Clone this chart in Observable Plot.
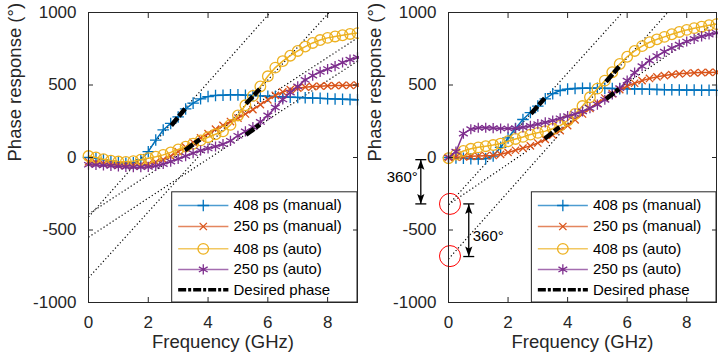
<!DOCTYPE html>
<html><head><meta charset="utf-8">
<script src="https://cdn.jsdelivr.net/npm/d3@7"></script>
<script src="https://cdn.jsdelivr.net/npm/@observablehq/plot@0.6"></script>
<style>
html,body{margin:0;padding:0;background:#fff;}
#wrap{display:flex;width:718px;height:356px;overflow:hidden;}
#wrap svg{overflow:visible;}
</style></head><body><div id="wrap"></div>
<script>
// ---------- data ----------
const freq = [0,0.25,0.5,0.75,1,1.25,1.5,1.75,2,2.25,2.5,2.75,3,3.25,3.5,3.75,4,4.25,4.5,4.75,5,5.25,5.5,5.75,6,6.25,6.5,6.75,7,7.25,7.5,7.75,8,8.25,8.5,8.75,9];
const seriesNames = ["408 ps (manual)","250 ps (manual)","408 ps (auto)","250 ps (auto)"];
const desiredName = "Desired phase";
const xTicks = [0,2,4,6,8];
const yTicks = [-1000,-500,0,500,1000];
const xLabel = "Frequency (GHz)";
const yLabel = "Phase response (°)";

// left panel
const leftMan408  = [0,-6,-15,-25,-35,-40,-37,-15,40,120,190,235,280,335,375,405,420,428,430,432,432,430,428,425,422,420,418,416,414,412,410,408,406,404,402,400,398];
const leftMan250  = [-30,-35,-42,-48,-52,-55,-55,-52,-45,-32,-15,10,40,72,105,135,165,195,222,248,272,300,330,365,398,428,452,468,478,485,489,492,494,496,497,498,500];
const leftAuto408 = [10,0,-12,-22,-28,-30,-25,-15,-5,5,18,35,55,75,95,118,140,160,180,225,290,360,425,490,560,620,665,702,735,765,790,810,825,835,843,852,858];
const leftAuto250 = [-50,-52,-55,-58,-62,-65,-67,-67,-65,-58,-45,-28,-10,10,30,48,62,76,92,115,150,180,210,245,290,345,400,448,490,535,565,590,610,630,655,675,690];
// desired-phase segments [f1, phase1, f2, phase2]
const leftDesired = [[2.77,221,3.23,336],[3.23,50,3.73,125],[5.27,370,5.73,473],[5.27,157,5.73,226]];
// dotted ideal-phase lines [f1, phase1, f2, phase2]
const leftGuides  = [[0,-410,6.08,1000],[0,-390,9,825],[0,-830,8.05,1000],[0,-550,9,665]];

// right panel
const rightMan408  = [0,-3,-5,-8,-10,-8,10,70,135,200,262,310,355,405,440,462,472,476,478,478,478,477,476,475,474,473,472,470,469,468,467,466,465,465,464,464,463];
const rightMan250  = [0,2,5,8,10,12,14,22,35,50,65,80,100,125,155,185,220,260,300,338,375,410,440,468,492,512,530,545,556,565,572,577,581,584,586,587,588];
const rightAuto408 = [-5,20,45,60,70,78,86,96,112,128,142,158,170,182,198,220,255,300,355,415,475,530,588,645,695,735,768,795,815,832,850,866,880,892,902,912,920];
const rightAuto250 = [0,40,165,195,205,205,203,200,200,202,208,218,230,242,255,270,285,300,318,340,365,398,435,478,530,585,630,668,700,730,755,778,800,818,835,848,860];
const rightDesired = [[2.77,301,3.23,409],[3.23,130,3.73,210],[5.29,522,5.73,628],[5.29,404,5.73,473]];
const rightGuides  = [[0,-325,5.84,1000],[0,-325,9,935],[0,-700,7.36,1000]];
// annotation: wrapped-phase markers and 360° arrows
const wrapPoints = [-320,-680];
const arrowF = [-0.93, 0.68];
const arrowFrom = [-15, -320];
const arrowTo = [-320, -683];
const arrowText = ["360°","360°"];

// ---------- styles ----------
const colors = ["#0072BD","#D95319","#EDB120","#7E2F8E"];
const symbols = ["plus","times","circle","asterisk"];
const symR = [3.8,3.4,5.3,4.8];
const FONT = "'Liberation Sans', Arial, Helvetica, sans-serif";
const AX = "#262626";

const capSym = {draw(ctx){ ctx.moveTo(-5.5,0); ctx.lineTo(5.5,0); }};
const headSym = {draw(ctx){ ctx.moveTo(0,0); ctx.lineTo(3.6,10); ctx.lineTo(0,8); ctx.lineTo(-3.6,10); ctx.closePath(); }};

function panel(series, desired, guides, marginLeft, annotate) {
  const marks = [];
  marks.push(Plot.link(guides, {x1: d=>d[0], y1: d=>d[1], x2: d=>d[2], y2: d=>d[3],
    stroke: "#000", strokeWidth: 1.2, strokeDasharray: "1.2,2.4"}));
  series.forEach((vals, i) => {
    const data = freq.map((f, j) => ({f, v: vals[j]}));
    marks.push(Plot.line(data, {x: "f", y: "v", stroke: colors[i], strokeWidth: 1.5}));
    marks.push(Plot.dot(data, {x: "f", y: "v", symbol: symbols[i], r: symR[i], stroke: colors[i], fill: "none", strokeWidth: 1.3}));
  });
  marks.push(Plot.link(desired, {x1: d=>d[0], y1: d=>d[1], x2: d=>d[2], y2: d=>d[3],
    stroke: "#000", strokeWidth: 4.5, strokeDasharray: "10,2"}));
  if (annotate) {
    const arrows = arrowF.map((f, i) => ({f, a: arrowFrom[i], b: arrowTo[i], t: arrowText[i]}));
    marks.push(Plot.dot(wrapPoints, {x: 0.05, y: d=>d, r: 10.5, stroke: "#ff0000", fill: "none", strokeWidth: 1}));
    marks.push(Plot.link(arrows, {x1: "f", x2: "f", y1: "a", y2: "b", stroke: "#000", strokeWidth: 1.3}));
    marks.push(Plot.dot(arrows, {x: "f", y: "a", symbol: capSym, r: 3, stroke: "#000", strokeWidth: 1.3}));
    marks.push(Plot.dot(arrows, {x: "f", y: "b", symbol: capSym, r: 3, stroke: "#000", strokeWidth: 1.3}));
    marks.push(Plot.dot(arrows, {x: "f", y: "a", symbol: headSym, r: 3, fill: "#000", stroke: "none"}));
    marks.push(Plot.dot(arrows, {x: "f", y: "b", symbol: headSym, r: 3, fill: "#000", stroke: "none", rotate: 180}));
    marks.push(Plot.text(arrows.slice(0,1), {x: "f", y: d => (d.a + d.b) / 2 + 30, text: "t", textAnchor: "end", dx: -3, fontSize: 15, fill: "#000"}));
    marks.push(Plot.text(arrows.slice(1), {x: "f", y: d => (d.a + d.b) / 2 - 40, text: "t", textAnchor: "start", dx: 4, fontSize: 15, fill: "#000"}));
  }
  // legend (inside axes, bottom right)
  const rowY = [-331,-476,-630,-772,-912];
  marks.push(Plot.rect([0], {x1: 2.8, x2: 9, y1: -1000, y2: -240, fill: "#fff", stroke: AX, strokeWidth: 1}));
  seriesNames.forEach((name, i) => {
    marks.push(Plot.link([0], {x1: 3.0, x2: 4.68, y1: rowY[i], y2: rowY[i], stroke: colors[i], strokeWidth: 1.5, strokeOpacity: 0.7}));
    marks.push(Plot.dot([0], {x: 3.84, y: rowY[i], symbol: symbols[i], r: symR[i], stroke: colors[i], fill: "none", strokeWidth: 1.3}));
  });
  marks.push(Plot.link([0], {x1: 3.0, x2: 4.68, y1: rowY[4], y2: rowY[4], stroke: "#000", strokeWidth: 3.5, strokeDasharray: "8,2,3,2"}));
  marks.push(Plot.text([...seriesNames, desiredName], {x: 4.85, y: (d, i) => rowY[i], text: d => d, textAnchor: "start", fontSize: 15, fill: "#000"}));
  // axes
  marks.push(Plot.frame({stroke: AX, strokeWidth: 1}));
  marks.push(Plot.axisX(xTicks, {anchor: "bottom", tickSize: 0, tickPadding: 13, fontSize: 17, fill: AX, label: null, tickFormat: d => String(d)}));
  marks.push(Plot.axisX(xTicks, {anchor: "bottom", tickSize: -5, fill: "none", stroke: AX, label: null}));
  marks.push(Plot.axisX(xTicks, {anchor: "top", tickSize: -5, fill: "none", stroke: AX, label: null}));
  marks.push(Plot.axisY(yTicks, {anchor: "left", tickSize: 0, tickPadding: 12, fontSize: 17, fill: AX, label: null, tickFormat: d => String(d)}));
  marks.push(Plot.axisY(yTicks, {anchor: "left", tickSize: -5, fill: "none", stroke: AX, label: null}));
  marks.push(Plot.axisY(yTicks, {anchor: "right", tickSize: -5, fill: "none", stroke: AX, label: null}));
  marks.push(Plot.text([xLabel], {frameAnchor: "bottom", lineAnchor: "middle", dy: 40, fontSize: 18.5, fill: AX}));
  marks.push(Plot.text([yLabel], {frameAnchor: "left", lineAnchor: "middle", dx: -73, dy: 4, rotate: -90, fontSize: 18.5, fill: AX}));

  return Plot.plot({
    width: 359, height: 356,
    marginLeft, marginRight: 2, marginTop: 12, marginBottom: 54,
    x: {domain: [0, 9]},
    y: {domain: [-1000, 1000]},
    style: {fontFamily: FONT, background: "#fff", overflow: "visible"},
    marks
  });
}

const wrap = document.getElementById("wrap");
wrap.appendChild(panel([leftMan408, leftMan250, leftAuto408, leftAuto250], leftDesired, leftGuides, 88, false));
wrap.appendChild(panel([rightMan408, rightMan250, rightAuto408, rightAuto250], rightDesired, rightGuides, 89, true));
</script>
</body></html>
